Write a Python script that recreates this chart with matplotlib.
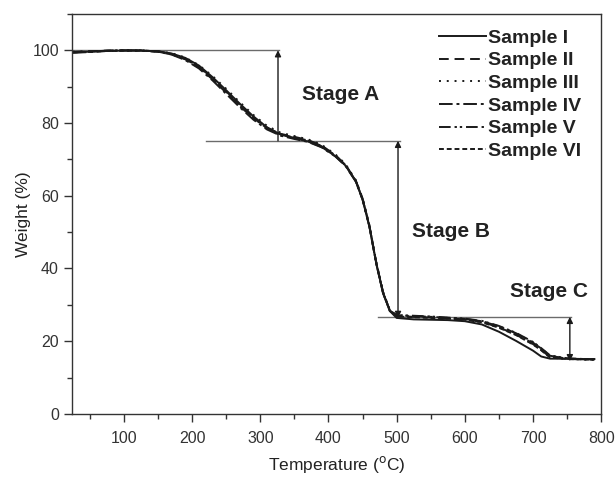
import matplotlib
matplotlib.use("Agg")
import matplotlib.pyplot as plt
from matplotlib.ticker import MultipleLocator

plt.rcParams["font.family"] = ["Liberation Sans", "DejaVu Sans"]

INK = "#1a1a1a"
GUIDE = "#6b6b6b"

TEMP = [25, 50, 75, 100, 125, 150, 170, 190, 210, 230, 250, 270, 290, 310,
        330, 350, 370, 390, 410, 425, 440, 450, 460, 470, 480, 490, 500, 525,
        550, 575, 600, 625, 650, 675, 700, 712, 725, 750, 775, 790]

W_I = [99.4, 99.6, 99.8, 99.9, 99.9, 99.7, 99.1, 97.9, 95.8, 92.6, 89.0, 85.3,
       81.8, 78.8, 76.8, 75.8, 74.9, 73.4, 70.9, 68.3, 64.0, 59.0, 51.6, 41.5,
       33.3, 28.3, 26.4, 26.0, 25.9, 25.8, 25.5, 24.6, 22.6, 20.1, 17.4, 15.8,
       15.2, 15.2, 15.1, 15.1]
W_II = [99.5, 99.7, 99.9, 100.0, 99.9, 99.6, 98.9, 97.5, 95.2, 92.0, 88.3, 84.6,
        81.3, 78.6, 77.0, 76.2, 75.3, 73.8, 71.2, 68.5, 64.2, 59.2, 51.8, 41.7,
        33.5, 28.5, 26.9, 26.7, 26.5, 26.3, 26.0, 25.3, 23.8, 21.8, 19.2, 17.6,
        15.6, 15.1, 15.0, 15.0]
W_III = [99.6, 99.7, 99.8, 99.9, 99.9, 99.7, 99.2, 98.0, 95.9, 92.9, 89.4, 85.7,
         82.2, 79.2, 77.3, 76.4, 75.5, 74.0, 71.4, 68.7, 64.3, 59.3, 51.9, 41.8,
         33.6, 28.6, 27.0, 26.8, 26.6, 26.4, 26.1, 25.4, 24.0, 22.0, 19.4, 17.8,
         15.8, 15.2, 15.0, 15.0]
W_IV = [99.3, 99.5, 99.8, 99.9, 100.0, 99.6, 98.8, 97.3, 95.0, 91.7, 88.0, 84.3,
        80.9, 78.2, 76.5, 75.6, 74.8, 73.3, 70.8, 68.2, 63.9, 58.9, 51.5, 41.4,
        33.2, 28.3, 27.1, 26.9, 26.7, 26.4, 26.1, 25.5, 24.1, 22.2, 19.6, 18.0,
        16.0, 15.2, 15.0, 14.9]
W_V = [99.5, 99.6, 99.9, 100.0, 99.9, 99.7, 99.0, 97.7, 95.5, 92.3, 88.7, 85.0,
       81.5, 78.5, 76.6, 75.9, 75.1, 73.6, 71.0, 68.4, 64.1, 59.1, 51.7, 41.6,
       33.4, 28.4, 27.2, 27.0, 26.8, 26.5, 26.2, 25.6, 24.2, 22.3, 19.8, 18.1,
       16.1, 15.3, 15.1, 15.0]
W_VI = [99.4, 99.6, 99.8, 99.9, 99.9, 99.6, 98.9, 97.6, 95.4, 92.2, 88.6, 84.9,
        81.6, 78.7, 76.9, 76.0, 75.2, 73.7, 71.1, 68.4, 64.1, 59.1, 51.7, 41.6,
        33.4, 28.4, 26.8, 26.6, 26.4, 26.2, 25.9, 25.2, 23.7, 21.7, 19.1, 17.5,
        15.5, 15.1, 15.0, 15.0]

LABELS = ["Sample I", "Sample II", "Sample III", "Sample IV", "Sample V",
          "Sample VI"]
SERIES = [W_I, W_II, W_III, W_IV, W_V, W_VI]
STYLES = ["-", (0, (5, 3)), (0, (1, 3)), (0, (7, 2, 1.5, 2)),
          (0, (6, 2, 1.2, 1.5, 1.2, 2)), (0, (2.5, 1.5))]

# poziomy etapów: (y, x_od, x_do), strzałki: (x, y_dol, y_gora, styl)
LEVELS = [(100.0, 24, 327), (75.1, 221, 505), (26.7, 473, 756)]
ARROWS = [(326, 75.1, 100.0, "-|>"), (502, 26.4, 75.1, "<|-|>"),
          (754, 14.5, 26.7, "<|-|>")]
STAGES = [("Stage A", 418, 87.7), ("Stage B", 580, 50.2), ("Stage C", 724, 33.8)]

fig = plt.figure(figsize=(6.16, 4.78), dpi=100)
ax = fig.add_axes([0.117, 0.134, 0.859, 0.837])

for w, lab, ls in zip(SERIES, LABELS, STYLES):
    ax.plot(TEMP, w, color=INK, lw=1.4, ls=ls, label=lab)

for y, x0, x1 in LEVELS:
    ax.plot([x0, x1], [y, y], color=GUIDE, lw=1.0, zorder=1)

for x, y0, y1, st in ARROWS:
    ax.annotate("", xy=(x, y1), xytext=(x, y0),
                arrowprops=dict(arrowstyle=st, color=INK, lw=1.0,
                                mutation_scale=9, shrinkA=0, shrinkB=0))

for txt, x, y in STAGES:
    ax.text(x, y, txt, ha="center", va="center", fontsize=15,
            fontweight="bold", color="#222222")

ax.set_xlim(24, 800)
ax.set_ylim(0, 110)
ax.xaxis.set_major_locator(MultipleLocator(100))
ax.xaxis.set_minor_locator(MultipleLocator(50))
ax.yaxis.set_major_locator(MultipleLocator(20))
ax.yaxis.set_minor_locator(MultipleLocator(10))
ax.tick_params(which="both", direction="out", colors="#333333",
               labelsize=11.5, width=1.0)
ax.tick_params(which="major", length=6)
ax.tick_params(which="minor", length=3.5)
ax.tick_params(axis="x", which="major", pad=6)
ax.set_xticks([100, 200, 300, 400, 500, 600, 700, 800])
for s in ax.spines.values():
    s.set_linewidth(1.0)
    s.set_color("#333333")

ax.set_xlabel(r"Temperature ($^{\rm o}$C)", fontsize=12.5, color="#222222",
              labelpad=6)
ax.set_ylabel("Weight (%)", fontsize=12.5, color="#222222", labelpad=1)

leg = ax.legend(loc="upper left", bbox_to_anchor=(0.694, 0.962), frameon=False,
                fontsize=14, handlelength=2.4, handletextpad=0.1,
                labelspacing=0.26, borderaxespad=0, borderpad=0)
for t in leg.get_texts():
    t.set_fontweight("bold")
    t.set_color("#222222")

fig.savefig("out.png", dpi=100)
